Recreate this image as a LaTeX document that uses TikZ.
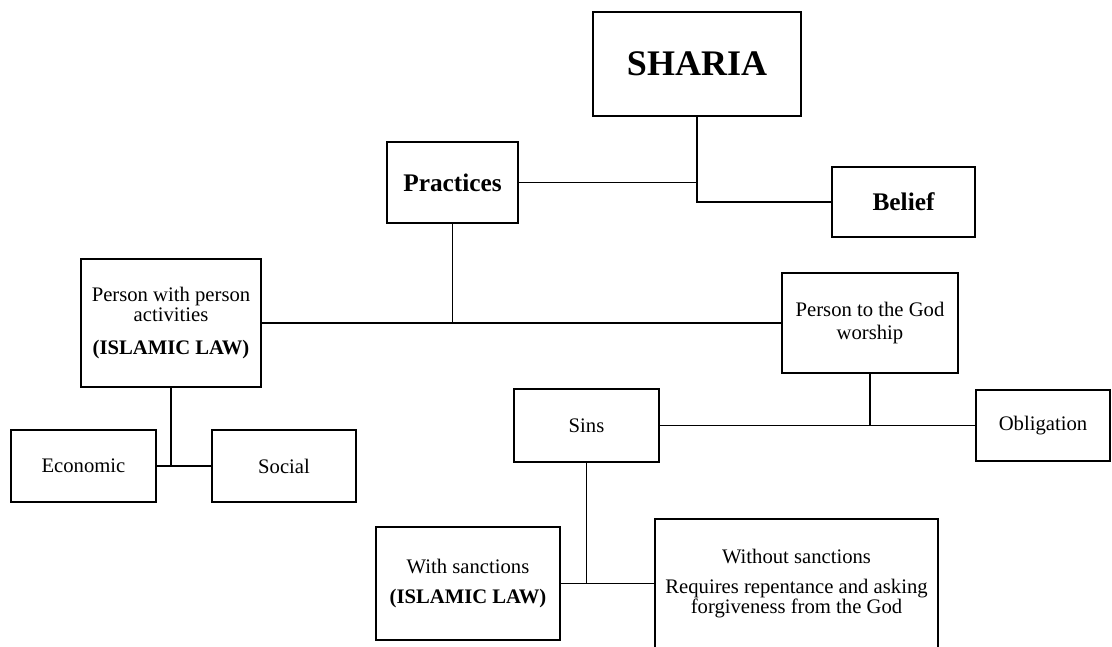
\documentclass[tikz,border=0pt]{standalone}
\usepackage{fontspec}
\setmainfont{Liberation Serif}
\usepackage{tikz}

\tikzset{
  box/.style={draw, line width=1.1pt, align=center, inner sep=0pt,
    font=\fontsize{15.5}{15}\selectfont},
  head/.style={box, font=\bfseries\fontsize{19}{22}\selectfont},
  wh/.style 2 args={minimum width=#1*0.75pt, minimum height=#2*0.75pt},
  link/.style={line width=1.1pt}
}

\begin{document}
\begin{tikzpicture}[x=0.75pt, y=-0.75pt]
\clip (0,0) rectangle (1112,646);
\fill[white] (0,0) rectangle (1112,646);

\node[head, wh={208}{104}, font=\bfseries\fontsize{27}{30}\selectfont] (sharia) at (697,64) {SHARIA};
\node[head, wh={131}{81}] (practices) at (452.5,182.5) {Practices};
\node[head, wh={143}{70}] (belief) at (903.5,202) {Belief};

\node[box, wh={180}{128}] (personperson) at (171,323)
  {Person with person\\activities\\[10pt]\textbf{(ISLAMIC LAW)}};
\node[box, wh={176}{100}] (persongod) at (870,323)
  {Person to the God\\[2pt]worship};

\node[box, wh={145}{72}] (economic) at (83.5,466) {Economic};
\node[box, wh={144}{72}] (social) at (284,466) {Social};
\node[box, wh={145}{73}] (sins) at (586.5,425.5) {Sins};
\node[box, wh={134}{71}] (obligation) at (1043,425.5) {Obligation};

\node[box, wh={184}{113}] (withsanc) at (468,583.5)
  {With sanctions\\[7.5pt]\textbf{(ISLAMIC LAW)}};
\node[box, wh={283}{129}] (withoutsanc) at (796.5,583.5)
  {Without sanctions\\[8pt]Requires repentance and asking\\forgiveness from the God};

% connectors
\draw[link] (practices.east) -| (sharia.south);
\draw[link] (sharia.south) |- (belief.west);
\draw[link] (practices.south) -- (practices.south |- personperson.east);
\draw[link] (personperson.east) -- (persongod.west);
\draw[link] (personperson.south) -- (personperson.south |- economic.east);
\draw[link] (economic.east) -- (social.west);
\draw[link] (persongod.south) -- (persongod.south |- sins.east);
\draw[link] (sins.east) -- (obligation.west);
\draw[link] (sins.south) -- (sins.south |- withsanc.east);
\draw[link] (withsanc.east) -- (withoutsanc.west);
\end{tikzpicture}
\end{document}
